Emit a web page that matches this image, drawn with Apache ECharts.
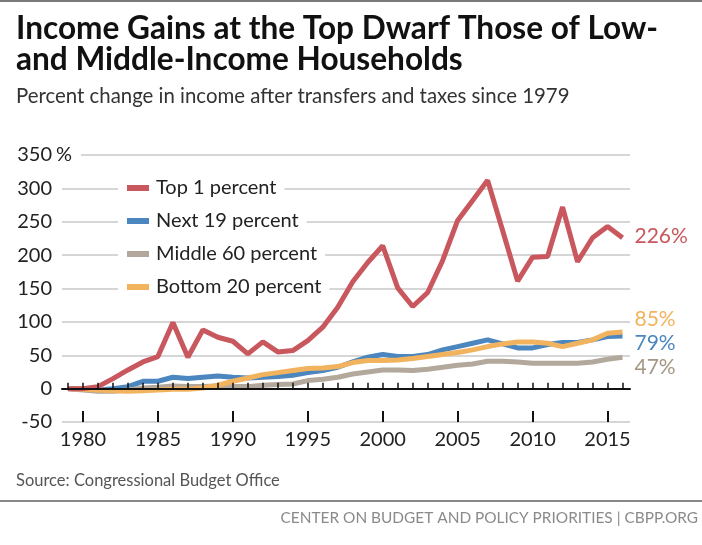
<!DOCTYPE html>
<html>
<head>
<meta charset="utf-8">
<script src="https://cdn.jsdelivr.net/npm/echarts@6/dist/echarts.min.js"></script>
<style>
  html, body { margin: 0; padding: 0; background: #fff; }
  #chart { width: 702px; height: 545px; }
</style>
</head>
<body>
<div id="chart"></div>
<script>
// years 1979..2016, percent change since 1979
var years = [1979,1980,1981,1982,1983,1984,1985,1986,1987,1988,1989,1990,1991,1992,1993,1994,1995,1996,1997,1998,
             1999,2000,2001,2002,2003,2004,2005,2006,2007,2008,2009,2010,2011,2012,2013,2014,2015,2016];
var labelYears = [1980,1985,1990,1995,2000,2005,2010,2015];
var top1     = [0,0,3,15,28,40,48,99,47,88,77,71,52,70,55,57,72,92,122,160,189,214,151,123,144,192,252,282,312,237,161,197,198,272,190,226,243,226];
var next19   = [0,-1,-2,0,3,11,11,17,15,17,19,17,16,17,18,20,24,27,32,40,47,51,48,48,51,58,63,68,73,67,61,61,66,69,69,73,78,79];
var middle60 = [0,-2,-4,-4,-2,1,2,4,3,3,4,3,3,5,6,7,12,14,17,22,25,28,28,27,29,32,35,37,41,41,40,38,38,38,38,40,44,47];
var bottom20 = [0,-1,-2,-3,-4,-3,-2,-1,-1,1,5,11,16,21,24,27,30,31,33,39,42,42,43,45,48,51,54,58,63,67,70,70,68,63,68,73,83,85];
var yTicks = [-50,0,50,100,150,200,250,300,350];

var SANS = 'Lato, "Open Sans", sans-serif';

function pairs(vals) {
    return years.map(function (y, i) { return [y, vals[i]]; });
}

function lineSeries(name, vals, color, z, labelColor, offsetY) {
    return {
        name: name,
        type: 'line',
        data: pairs(vals),
        showSymbol: false,
        symbol: 'none',
        z: z,
        lineStyle: { color: color, width: 5 },
        itemStyle: { color: color },
        endLabel: {
            show: true,
            formatter: vals[vals.length - 1] + '%',
            color: labelColor,
            fontFamily: SANS,
            fontSize: 21,
            distance: 12,
            offset: [0, offsetY]
        },
        emphasis: { disabled: true },
        animation: false
    };
}

var myChart = echarts.init(document.getElementById('chart'));
var option = {
    backgroundColor: '#fff',
    animation: false,
    grid: { left: 62, right: 72, top: 155, bottom: 123 },
    legend: {
        orient: 'vertical',
        left: 127,
        top: 175,
        padding: 0,
        itemGap: 7,
        itemWidth: 22,
        itemHeight: 6,
        icon: 'rect',
        selectedMode: false,
        data: ['Top 1 percent', 'Next 19 percent', 'Middle 60 percent', 'Bottom 20 percent'],
        textStyle: {
            fontFamily: SANS,
            fontSize: 20,
            color: '#222',
            lineHeight: 26,
            backgroundColor: '#fff',
            padding: [0, 8, 0, 2]
        }
    },
    xAxis: [{
        type: 'value', min: 1978.6, max: 2016.5, position: 'bottom',
        axisLine: { show: false, onZero: false },
        axisTick: { show: false },
        splitLine: { show: false },
        axisLabel: {
            customValues: labelYears, fontFamily: SANS, fontSize: 20, color: '#222', margin: 8,
            formatter: function (v) { return String(v); }
        }
    }, {
        type: 'value', min: 1978.6, max: 2016.5, position: 'bottom', z: 10,
        axisLine: { show: true, onZero: true, lineStyle: { color: '#111', width: 2 } },
        axisTick: { show: true, inside: true, length: 6, customValues: years, lineStyle: { color: '#111', width: 1.5 } },
        axisLabel: { show: false },
        splitLine: { show: false }
    }, {
        type: 'value', min: 1978.6, max: 2016.5, position: 'bottom', z: 10,
        axisLine: { show: false, onZero: true },
        axisTick: { show: true, inside: true, length: 11, customValues: labelYears, lineStyle: { color: '#111', width: 2 } },
        axisLabel: { show: false },
        splitLine: { show: false }
    }],
    yAxis: {
        type: 'value', min: -50, max: 350, interval: 50,
        axisLine: { show: false },
        axisTick: { show: false },
        axisLabel: { customValues: yTicks, fontFamily: SANS, fontSize: 20, color: '#222', margin: 10 },
        splitLine: { lineStyle: { color: '#c8c8c8', width: 1.5 } }
    },
    series: [
        lineSeries('Next 19 percent', next19, '#4b86bf', 2, '#4b86bf', 7),
        lineSeries('Middle 60 percent', middle60, '#b3a89c', 3, '#a39684', 10),
        lineSeries('Bottom 20 percent', bottom20, '#f2b35f', 4, '#f2b35f', -13),
        lineSeries('Top 1 percent', top1, '#c9575e', 5, '#c9575e', -2)
    ],
    graphic: [
        { type: 'rect', shape: { x: 0, y: 0, width: 702, height: 2 }, style: { fill: '#7a7a7a' } },
        { type: 'text', x: 16, y: 29, style: { text: 'Income Gains at the Top Dwarf Those of Low-', font: 'bold 31.6px ' + SANS, fill: '#111', verticalAlign: 'middle' } },
        { type: 'text', x: 16, y: 60, style: { text: 'and Middle-Income Households', font: 'bold 31.6px ' + SANS, fill: '#111', verticalAlign: 'middle' } },
        { type: 'text', x: 16, y: 96, style: { text: 'Percent change in income after transfers and taxes since 1979', font: '20.4px ' + SANS, fill: '#333', verticalAlign: 'middle' } },
        { type: 'text', x: 55, y: 155, z: 5, style: { text: '%', font: '20px ' + SANS, fill: '#222', verticalAlign: 'middle', backgroundColor: '#fff', padding: [0, 9, 0, 1] } },
        { type: 'rect', z: 1, shape: { x: 118, y: 178, width: 40, height: 120 }, style: { fill: '#fff' } },
        { type: 'text', x: 16, y: 481, style: { text: 'Source: Congressional Budget Office', font: '16.5px ' + SANS, fill: '#555', verticalAlign: 'middle' } },
        { type: 'rect', shape: { x: 0, y: 500, width: 702, height: 2 }, style: { fill: '#888' } },
        { type: 'text', x: 698, y: 518, style: { text: 'CENTER ON BUDGET AND POLICY PRIORITIES | CBPP.ORG', font: '15.4px ' + SANS, fill: '#8a8a8a', align: 'right', verticalAlign: 'middle' } }
    ]
};
myChart.setOption(option);
</script>
</body>
</html>
